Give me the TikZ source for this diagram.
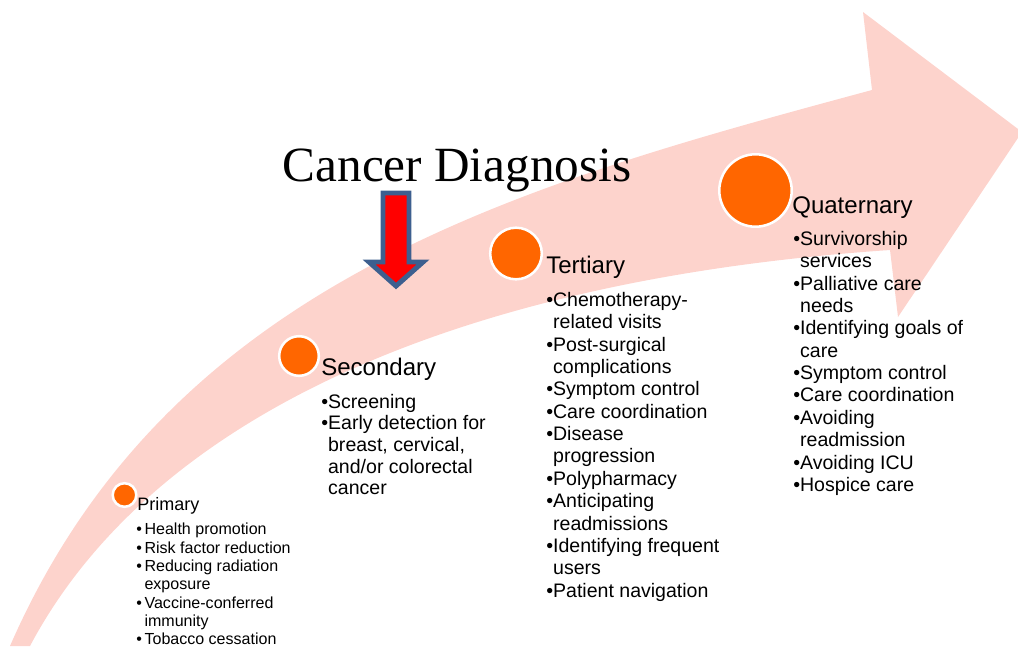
\documentclass[tikz,border=0pt]{standalone}
\usepackage{fontspec}
\setmainfont{Liberation Sans}
\newfontfamily\titlefont{Liberation Serif}
\usepackage{tikz}
\usetikzlibrary{arrows.meta,positioning}
\definecolor{bandpink}{HTML}{FDD3CC}
\definecolor{stageorange}{HTML}{FF6600}
\definecolor{arrowred}{HTML}{FF0000}
\definecolor{arrowblue}{HTML}{3D5F8F}
\newcommand{\ind}{\phantom{\textbullet}}
\newcommand{\sind}{\phantom{\textbullet\,}}
\tikzset{
  stagedot/.style={circle, fill=stageorange, draw=white, line width=1.8pt, inner sep=0pt},
  stagehead/.style={anchor=north west, inner sep=0pt, font=\fontsize{17.1}{20}\selectfont},
  stagelist/.style={anchor=north west, inner sep=0pt, align=left,
    font=\fontsize{13.9}{15.9}\selectfont},
  smallhead/.style={stagehead, font=\fontsize{12.8}{15}\selectfont},
  smalllist/.style={stagelist, font=\fontsize{11.4}{13}\selectfont},
  downarrow/.style={fill=arrowred, draw=arrowblue, line width=3.5pt, line join=miter}
}
\begin{document}
\begin{tikzpicture}[x=0.025cm,y=-0.025cm]
  \useasboundingbox (0,0) rectangle (1018,646);
  % the big curved arrow
  \fill[bandpink] (10,646) .. controls (170,280) and (520,185) .. (872,90)
    -- (863,12) -- (1022,132) -- (898,317) -- (890,250)
    .. controls (450,280) and (150,420) .. (30,646) -- cycle;

  \node[font=\titlefont\fontsize{35}{38}\selectfont, anchor=base, inner sep=0pt]
    (diagnosis) at (457,181) {Cancer Diagnosis};
  \draw[downarrow] (383,193) -- (409,193) -- (409,262) -- (423,262) -- (396,286)
    -- (369,262) -- (383,262) -- cycle;

  % primary
  \node[stagedot, minimum size=0.59cm] (primarydot) at (124.5,495) {};
  \node[smallhead] (primaryhead) at (137,497) {Primary};
  \node[smalllist] (primarylist) at (136,523) {\textbullet\,Health promotion\\
    \textbullet\,Risk factor reduction\\ \textbullet\,Reducing radiation\\
    \sind exposure\\ \textbullet\,Vaccine-conferred\\ \sind immunity\\
    \textbullet\,Tobacco cessation};

  % secondary
  \node[stagedot, minimum size=0.99cm] (secondarydot) at (299,356) {};
  \node[stagehead] (secondaryhead) at (321,358) {Secondary};
  \node[stagelist, font=\fontsize{13.9}{15.3}\selectfont] (secondarylist) at (321,394)
    {\textbullet Screening\\ \textbullet Early detection for\\ \ind breast, cervical,\\
    \ind and/or colorectal\\ \ind cancer};

  % tertiary
  \node[stagedot, minimum size=1.29cm] (tertiarydot) at (516,253.5) {};
  \node[stagehead] (tertiaryhead) at (546,256) {Tertiary};
  \node[stagelist] (tertiarylist) at (546,292) {\textbullet Chemotherapy-\\
    \ind related visits\\ \textbullet Post-surgical\\ \ind complications\\
    \textbullet Symptom control\\ \textbullet Care coordination\\
    \textbullet Disease\\ \ind progression\\ \textbullet Polypharmacy\\
    \textbullet Anticipating\\ \ind readmissions\\ \textbullet Identifying frequent\\
    \ind users\\ \textbullet Patient navigation};

  % quaternary
  \node[stagedot, minimum size=1.81cm] (quaternarydot) at (755.5,190.5) {};
  \node[stagehead] (quaternaryhead) at (792,196) {Quaternary};
  \node[stagelist] (quaternarylist) at (793,231) {\textbullet Survivorship\\
    \ind services\\ \textbullet Palliative care\\ \ind needs\\
    \textbullet Identifying goals of\\ \ind care\\ \textbullet Symptom control\\
    \textbullet Care coordination\\ \textbullet Avoiding\\ \ind readmission\\
    \textbullet Avoiding ICU\\ \textbullet Hospice care};
\end{tikzpicture}
\end{document}
